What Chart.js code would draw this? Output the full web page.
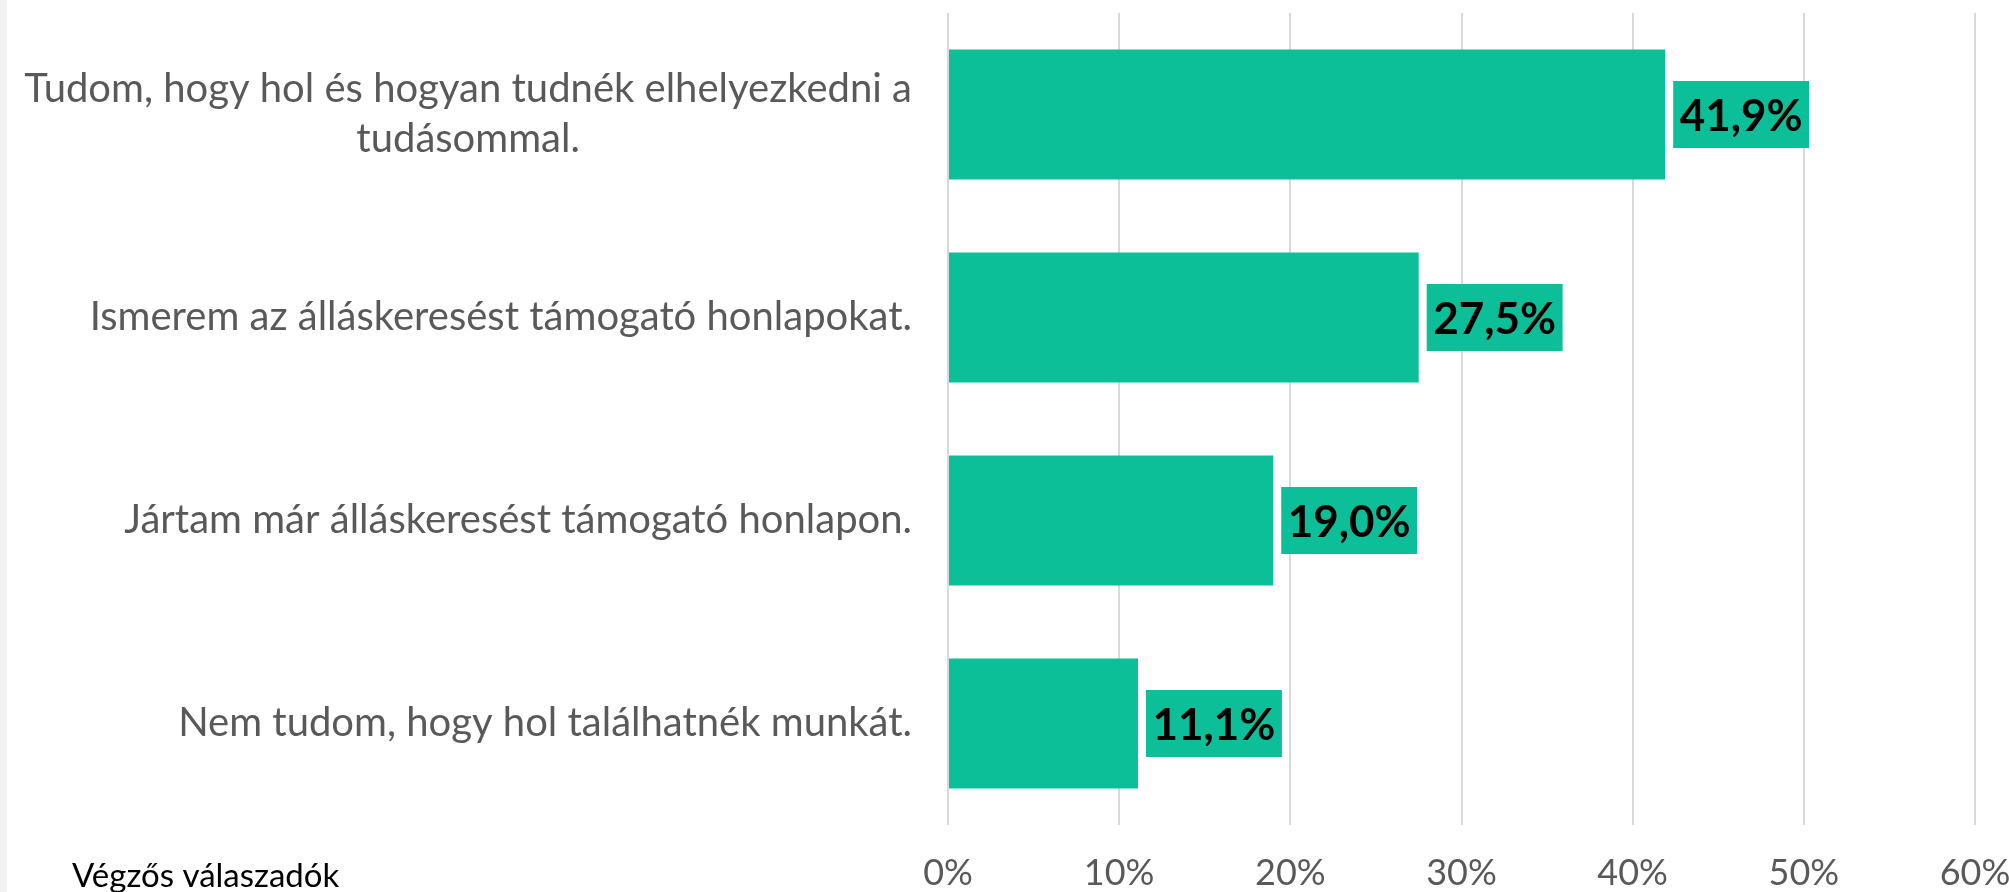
<!DOCTYPE html>
<html lang="hu">
<head>
    <meta charset="UTF-8">
    <title>Végzős válaszadók</title>
    <style>
        html, body {
            margin: 0;
            padding: 0;
            background: #f2f2f2;
        }
        .wrap {
            position: absolute;
            left: 7px;
            top: 0;
            width: 2002px;
            height: 892px;
            background: #ffffff;
        }
    </style>
</head>
<body>
    <div class="wrap">
        <canvas id="chart" width="2002" height="892"></canvas>
    </div>

    <script src="https://cdn.jsdelivr.net/npm/chart.js"></script>
    <script>
        // Adatok
        const categories = [
            ['Tudom, hogy hol és hogyan tudnék elhelyezkedni a', 'tudásommal.'],
            ['Ismerem az álláskeresést támogató honlapokat.'],
            ['Jártam már álláskeresést támogató honlapon.'],
            ['Nem tudom, hogy hol találhatnék munkát.']
        ];
        const values = [41.9, 27.5, 19.0, 11.1];
        const footnote = 'Végzős válaszadók';

        const barColor = '#0dbf99';
        const labelFont = 'Lato, "Open Sans", sans-serif';

        // Kategória feliratok (többsoros, középre zárt blokk)
        const categoryLabels = {
            id: 'categoryLabels',
            afterDraw(chart) {
                const ctx = chart.ctx;
                const yScale = chart.scales.y;
                const right = chart.chartArea.left - 36;
                ctx.save();
                ctx.font = '40px ' + labelFont;
                ctx.fillStyle = '#595959';
                ctx.textBaseline = 'middle';
                ctx.textAlign = 'center';
                categories.forEach(function(lines, i) {
                    const y = yScale.getPixelForTick(i);
                    const widest = Math.max.apply(null, lines.map(l => ctx.measureText(l).width));
                    const cx = right - widest / 2;
                    lines.forEach(function(line, j) {
                        ctx.fillText(line, cx, y + (j - (lines.length - 1) / 2) * 50);
                    });
                });
                // Lábjegyzet
                ctx.font = '33px ' + labelFont;
                ctx.fillStyle = '#000000';
                ctx.textAlign = 'left';
                ctx.textBaseline = 'alphabetic';
                ctx.fillText(footnote, 65, 887);
                ctx.restore();
            }
        };

        // Értékcímkék a sávok mellett
        const valueLabels = {
            id: 'valueLabels',
            afterDatasetsDraw(chart) {
                const ctx = chart.ctx;
                const meta = chart.getDatasetMeta(0);
                ctx.save();
                ctx.font = 'bold 44px ' + labelFont;
                ctx.textBaseline = 'middle';
                ctx.textAlign = 'center';
                meta.data.forEach(function(bar, i) {
                    const text = values[i].toFixed(1).replace('.', ',') + '%';
                    const w = ctx.measureText(text).width + 13;
                    const x0 = bar.x + 8;
                    ctx.fillStyle = barColor;
                    ctx.fillRect(x0, bar.y - 33.5, w, 67);
                    ctx.fillStyle = '#000000';
                    ctx.fillText(text, x0 + w / 2, bar.y + 2);
                });
                ctx.restore();
            }
        };

        new Chart(document.getElementById('chart'), {
            type: 'bar',
            data: {
                labels: categories,
                datasets: [{
                    data: values,
                    backgroundColor: barColor,
                    barPercentage: 0.64,
                    categoryPercentage: 1
                }]
            },
            options: {
                indexAxis: 'y',
                responsive: false,
                animation: false,
                layout: {
                    padding: { top: 13, right: 34, left: 0, bottom: 0 }
                },
                scales: {
                    x: {
                        min: 0,
                        max: 60,
                        ticks: {
                            stepSize: 10,
                            color: '#595959',
                            font: { family: labelFont, size: 36 },
                            padding: 27,
                            maxRotation: 0,
                            callback: function(value) {
                                return value + '%';
                            }
                        },
                        grid: {
                            color: '#d9d9d9',
                            lineWidth: 2,
                            drawTicks: false
                        },
                        border: { display: false },
                        afterFit: function(scale) {
                            scale.height = 67;
                            scale.paddingLeft = 0;
                            scale.paddingRight = 0;
                        }
                    },
                    y: {
                        ticks: { display: false },
                        grid: { display: false, drawTicks: false },
                        border: { display: false },
                        afterFit: function(scale) {
                            scale.width = 941;
                        }
                    }
                },
                plugins: {
                    legend: { display: false },
                    tooltip: { enabled: false }
                }
            },
            plugins: [categoryLabels, valueLabels]
        });
    </script>
</body>
</html>
